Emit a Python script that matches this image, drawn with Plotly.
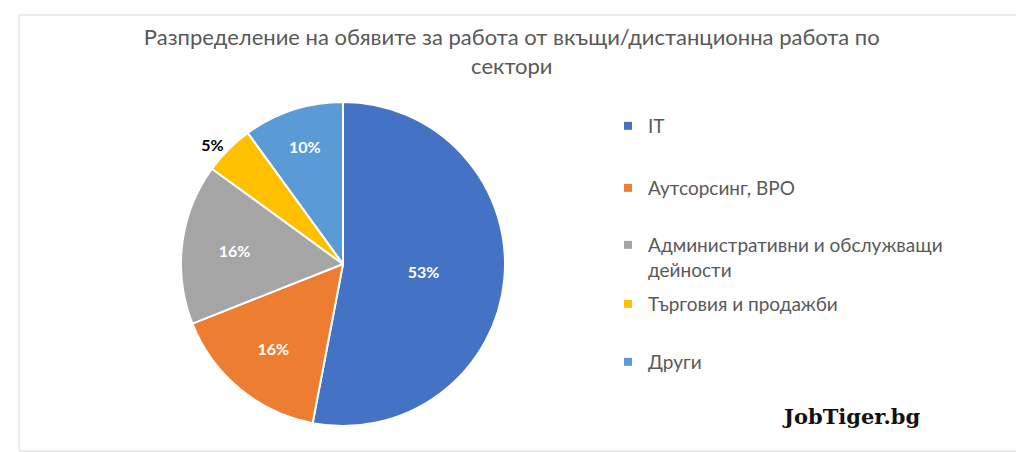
import plotly.graph_objects as go

sectors = ["IT", "Аутсорсинг, BPO", "Административни и обслужващи<br>дейности",
           "Търговия и продажби", "Други"]
shares = [53, 16, 16, 5, 10]
colors = ["#4472C4", "#ED7D31", "#A5A5A5", "#FFC000", "#5B9BD5"]
label_pos = ["inside", "inside", "inside", "outside", "inside"]
label_colors = ["white", "white", "white", "black", "white"]

title_text = "Разпределение на обявите за работа от вкъщи/дистанционна работа по<br>сектори"

W, H = 1024, 452
cx, cy, r = 335, 256, 162

fig = go.Figure()
fig.add_trace(go.Pie(
    labels=sectors,
    values=shares,
    sort=False,
    direction="clockwise",
    rotation=0,
    marker=dict(colors=colors, line=dict(color="white", width=2)),
    texttemplate="%{percent:.0%}",
    textposition=label_pos,
    insidetextorientation="horizontal",
    textfont=dict(family="Lato", size=16, color=label_colors, weight="bold"),
    domain=dict(x=[(cx - r) / W, (cx + r) / W], y=[(H - cy - r) / H, (H - cy + r) / H]),
    showlegend=False,
    hoverinfo="label+percent",
))

# legend entries, each in its own legend so they can be spaced like the original
legend_tops = [111, 173, 230, 289, 347]
for i, (name, col) in enumerate(zip(sectors, colors)):
    key = "legend" if i == 0 else f"legend{i + 1}"
    fig.add_trace(go.Scatter(
        x=[None], y=[None], mode="markers", name=name,
        marker=dict(symbol="square", size=8, color=col),
        legend=key, hoverinfo="skip",
    ))
    fig.update_layout({key: dict(
        x=600 / W, y=(H - legend_tops[i] + 12) / H, xanchor="left", yanchor="top",
        bgcolor="rgba(0,0,0,0)", valign="top", itemwidth=30,
        font=dict(family="Lato", size=19, color="#595959"),
    )})

fig.update_layout(
    width=W, height=H,
    margin=dict(l=0, r=0, t=0, b=0),
    paper_bgcolor="white", plot_bgcolor="white",
    xaxis=dict(visible=False), yaxis=dict(visible=False),
    title=dict(text=title_text, x=0.492, xanchor="center", y=1 - 37 / H, yanchor="top",
               yref="container", font=dict(family="Lato", size=22, color="#595959")),
    shapes=[dict(type="rect", xref="paper", yref="paper", x0=11 / W, x1=1012 / W,
                 y0=1 - 443 / H, y1=1 - 7 / H, line=dict(color="#D9D9D9", width=1))],
    annotations=[dict(text="<b>JobTiger.bg</b>", xref="paper", yref="paper",
                      x=843 / W, y=1 - 408 / H, xanchor="center", yanchor="middle",
                      showarrow=False,
                      font=dict(family="DejaVu Serif", size=21, color="#111111"))],
)

fig.write_html("out.html")
